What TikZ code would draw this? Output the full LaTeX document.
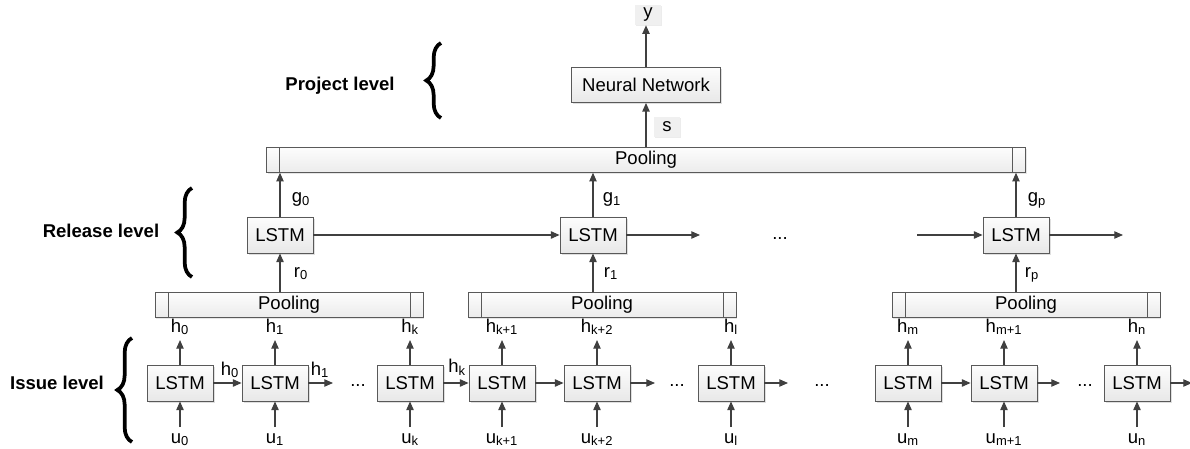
\documentclass[tikz,border=0pt]{standalone}
\usepackage{fontspec}
\setmainfont{Liberation Sans}
\usetikzlibrary{arrows.meta,decorations.pathreplacing,shadows,calc}
\begin{document}
\begin{tikzpicture}[x=0.75pt,y=-0.75pt,
  font=\fontsize{13.9}{16}\selectfont,
  box/.style={draw=gray!70!black, line width=0.6pt, top color=gray!2, bottom color=gray!18,
    minimum width=49.5pt, minimum height=27pt, inner sep=2pt,
    drop shadow={shadow xshift=1.2pt, shadow yshift=-1.2pt, opacity=0.25, fill=gray}},
  pool/.style={draw=gray!70!black, line width=0.6pt, top color=gray!2, bottom color=gray!15,
    minimum height=18.5pt, inner sep=1pt,
    drop shadow={shadow xshift=1pt, shadow yshift=-1pt, opacity=0.2, fill=gray},
    path picture={
      \draw[gray!70!black, line width=0.5pt] ([xshift=9.75pt]path picture bounding box.north west) -- ([xshift=9.75pt]path picture bounding box.south west);
      \draw[gray!70!black, line width=0.5pt] ([xshift=-9.75pt]path picture bounding box.north east) -- ([xshift=-9.75pt]path picture bounding box.south east);}},
  tag/.style={fill=gray!12, minimum width=19.5pt, minimum height=15pt, inner sep=1pt,
    drop shadow={shadow xshift=0.8pt, shadow yshift=-0.8pt, opacity=0.15, fill=gray}},
  lab/.style={anchor=base, inner sep=0pt},
  arr/.style={draw=black!75, line width=0.9pt, -{Triangle[length=6.5pt,width=5.5pt]}},
  lvl/.style={font=\fontsize{13.9}{16}\selectfont\bfseries},
  brc/.style={decorate, decoration={brace, amplitude=11pt}, line width=2.8pt}
]
\useasboundingbox (0,0) rectangle (1190,449);

% ---------- project level ----------
\node[lvl] (plev) at (340,86) {Project level};
\draw[brc] (441,118) -- (441,43);
\node[box, minimum width=111.75pt, minimum height=26.25pt] (nn) at (646,85) {Neural Network};
\node[tag] (ybox) at (648,15) {y};
\node[tag] (sbox) at (667,127) {s};
\node[pool, minimum width=569pt] (tp) at (646,160) {Pooling};
\draw[arr] (nn) -- (nn |- ybox.south);
\draw[arr] (tp.north -| nn) -- (nn);

% ---------- release level ----------
\node[lvl] (rlev) at (101,231) {Release level};
\draw[brc] (192,277) -- (192,188);
\node[box] (rl0) at (280,235) {LSTM};
\node[box] (rl1) at (593,235) {LSTM};
\node[box] (rlp) at (1016,235) {LSTM};
\node[pool, minimum width=201pt] (p0) at (289,305) {Pooling};
\node[pool, minimum width=201pt] (p1) at (602,305) {Pooling};
\node[pool, minimum width=201pt] (pp) at (1026,305) {Pooling};
\draw[arr] (rl0) -- (rl0 |- tp.south);
\draw[arr] (rl1) -- (rl1 |- tp.south);
\draw[arr] (rlp) -- (rlp |- tp.south);
\draw[arr] (rl0 |- p0.north) -- (rl0);
\draw[arr] (rl1 |- p1.north) -- (rl1);
\draw[arr] (rlp |- pp.north) -- (rlp);
\node[lab] (g0) at (301,203) {g\textsubscript{0}};
\node[lab] (g1) at (612,203) {g\textsubscript{1}};
\node[lab] (gp) at (1037,203) {g\textsubscript{p}};
\node[lab] (r0) at (301,277) {r\textsubscript{0}};
\node[lab] (r1) at (611,277) {r\textsubscript{1}};
\node[lab] (rp) at (1032,277) {r\textsubscript{p}};
\coordinate (r1out) at (700,235);
\coordinate (rpin) at (917,235);
\coordinate (rpout) at (1123,235);
\draw[arr] (rl0) -- (rl1);
\draw[arr] (rl1) -- (r1out);
\draw[arr] (rpin) -- (rlp);
\draw[arr] (rlp) -- (rpout);
\node[lab] (rdots) at (780,240) {...};

% ---------- issue level ----------
\node[lvl] (ilev) at (57,383) {Issue level};
\draw[brc] (132,442) -- (132,338);
\foreach \n/\x/\s in {a/180/0, b/275/1, k/410/k, ka/502/k+1, kb/597/k+2, l/731/l, m/908/m, ma/1004/m+1, n/1137/n}{
  \node[box] (i\n) at (\x,383) {LSTM};
  \coordinate (ho\n) at (\x,340);
  \coordinate (ui\n) at (\x,427);
  \draw[arr] (i\n) -- (ho\n);
  \draw[arr] (ui\n) -- (i\n);
  \node[lab] (hl\n) at (\x,332) {h\textsubscript{\s}};
  \node[lab] (ul\n) at (\x,443) {u\textsubscript{\s}};
}
\coordinate (bout) at (333,383);
\coordinate (kbout) at (655,383);
\coordinate (lout) at (788,383);
\coordinate (maout) at (1060,383);
\coordinate (nout) at (1192,383);
\draw[arr] (ia) -- (ib);
\draw[arr] (ib) -- (bout);
\draw[arr] (ik) -- (ika);
\draw[arr] (ika) -- (ikb);
\draw[arr] (ikb) -- (kbout);
\draw[arr] (il) -- (lout);
\draw[arr] (im) -- (ima);
\draw[arr] (ima) -- (maout);
\draw[arr] (in) -- (nout);
\node[lab] (hab) at (230,375) {h\textsubscript{0}};
\node[lab] (hbo) at (320,375) {h\textsubscript{1}};
\node[lab] (hkk) at (457,373) {h\textsubscript{k}};
\node[lab] (d1) at (358,387) {...};
\node[lab] (d2) at (677,387) {...};
\node[lab] (d3) at (822,387) {...};
\node[lab] (d4) at (1085,387) {...};
\end{tikzpicture}
\end{document}
